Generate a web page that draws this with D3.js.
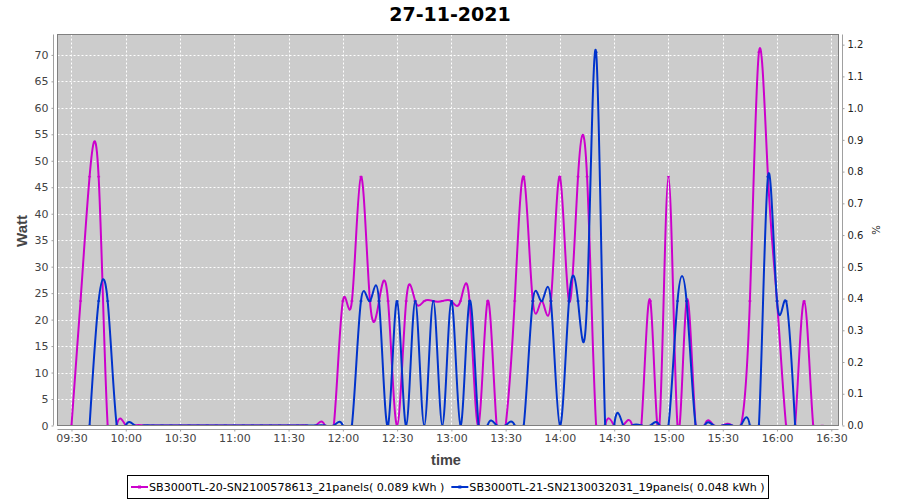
<!DOCTYPE html>
<html><head><meta charset="utf-8">
<script src="https://cdn.jsdelivr.net/npm/d3@7"></script>
<style>body{margin:0;background:#fff}svg{display:block}</style>
</head><body><svg id="c" width="900" height="500"></svg>
<script>
const chartTitle = "27-11-2021";
const xAxisTitle = "time";
const yAxisTitle = "Watt";
const y2AxisTitle = "%";
const seriesNames = [
  "SB3000TL-20-SN2100578613_21panels( 0.089 kWh )",
  "SB3000TL-21-SN2130032031_19panels( 0.048 kWh )"
];
const seriesColors = ["#cc00cc", "#0033cc"];
const times = [
  "09:30","09:35","09:40","09:45","09:50","09:55","10:00","10:05","10:10","10:15","10:20","10:25",
  "10:30","10:35","10:40","10:45","10:50","10:55","11:00","11:05","11:10","11:15","11:20","11:25",
  "11:30","11:35","11:40","11:45","11:50","11:55","12:00","12:05","12:10","12:15","12:20","12:25",
  "12:30","12:35","12:40","12:45","12:50","12:55","13:00","13:05","13:10","13:15","13:20","13:25",
  "13:30","13:35","13:40","13:45","13:50","13:55","14:00","14:05","14:10","14:15","14:20","14:25",
  "14:30","14:35","14:40","14:45","14:50","14:55","15:00","15:05","15:10","15:15","15:20","15:25",
  "15:30","15:35","15:40","15:45","15:50","15:55","16:00","16:05","16:10","16:15","16:20","16:25"
];
const pinkValues = [
  0,23.5,47,47,0,0,0,0,0,0,0,0,
  0,0,0,0,0,0,0,0,0,0,0,0,
  0,0,0,0,0,0,23.5,23.5,47,23.5,23.5,23.5,
  0,23.5,23.5,23.5,23.5,23.5,23.5,23.5,23.5,0,23.5,0,
  0,23.5,47,23.5,23.5,23.5,47,23.5,47,47,0,0,
  0,0,0,0,23.5,0,47,0,23.5,0,0,0,
  0,0,0,23.5,70.5,47,23.5,0,0,23.5,0,0
];
const blueValues = [
  null,null,0,23.5,23.5,0,0,0,0,0,0,0,
  0,0,0,0,0,0,0,0,0,0,0,0,
  0,0,0,0,0,0,0,0,23.5,23.5,23.5,0,
  23.5,0,23.5,0,23.5,0,23.5,0,23.5,0,0,0,
  0,0,0,23.5,23.5,23.5,0,23.5,23.5,23.5,70.5,0,
  0,0,0,0,0,0,0,23.5,23.5,0,0,0,
  0,0,0,0,0,47,23.5,23.5,0,null,null,null
];
const xTickLabels = ["09:30","10:00","10:30","11:00","11:30","12:00","12:30","13:00","13:30","14:00","14:30","15:00","15:30","16:00","16:30"];
const yTicks = [0,5,10,15,20,25,30,35,40,45,50,55,60,65,70];
const y2Ticks = [0,0.1,0.2,0.3,0.4,0.5,0.6,0.7,0.8,0.9,1.0,1.1,1.2];

const parseT = d3.timeParse("%H:%M:%S");
const parseHM = d3.timeParse("%H:%M");
const svg = d3.select("#c");
const L = 57.5, R = 838.5, T = 34.5, B = 425.5;

const x = d3.scaleTime().domain([parseT("09:22:16"), parseT("16:33:59")]).range([L, R]);
const y = d3.scaleLinear().domain([0, 73.85]).range([B, T]);
const y2 = d3.scaleLinear().domain([0, 1.232]).range([B, T]);

svg.append("rect").attr("width", 900).attr("height", 500).attr("fill", "#fff");
svg.append("rect").attr("x", L).attr("y", T).attr("width", R - L).attr("height", B - T).attr("fill", "#cccccc");

// gridlines
const xTickDates = xTickLabels.map(parseHM);
svg.append("g").selectAll("line").data(xTickDates).join("line")
  .attr("x1", d => Math.round(x(d)) + 0.5).attr("x2", d => Math.round(x(d)) + 0.5)
  .attr("y1", T).attr("y2", B).attr("stroke", "#fff").attr("stroke-width", 1).attr("stroke-dasharray", "2,2");
svg.append("g").selectAll("line").data(yTicks.slice(1)).join("line")
  .attr("x1", L).attr("x2", R)
  .attr("y1", d => Math.round(y(d)) + 0.5).attr("y2", d => Math.round(y(d)) + 0.5)
  .attr("stroke", "#fff").attr("stroke-width", 1).attr("stroke-dasharray", "2,2");

// series
svg.append("clipPath").attr("id", "clip").append("rect")
  .attr("x", L).attr("y", T).attr("width", R - L).attr("height", B - T);
const tDates = times.map(parseHM);
const allSeries = [pinkValues, blueValues];
const line = d3.line().x(d => x(d.t)).y(d => y(d.v)).curve(d3.curveNatural);
const plotG = svg.append("g").attr("clip-path", "url(#clip)");
allSeries.forEach((vals, si) => {
  const pts = vals.map((v, i) => ({t: tDates[i], v})).filter(d => d.v !== null);
  plotG.append("path").datum(pts).attr("d", line)
    .attr("fill", "none").attr("stroke", seriesColors[si]).attr("stroke-width", 2)
    .attr("stroke-linejoin", "round");
  plotG.append("g").selectAll("rect").data(pts).join("rect")
    .attr("x", d => x(d.t) - 1.5).attr("y", d => y(d.v) - 0.75)
    .attr("width", 3).attr("height", 1.5).attr("fill", seriesColors[si]).attr("opacity", 0.8);
});

// plot outline
svg.append("rect").attr("x", L).attr("y", T).attr("width", R - L).attr("height", B - T)
  .attr("fill", "none").attr("stroke", "#808080").attr("stroke-width", 1);

const axisColor = "#a0a0a0";
// left axis
const yAxis = d3.axisLeft(y).tickValues(yTicks).tickSize(2).tickPadding(3).tickFormat(d3.format("d"));
const gy = svg.append("g").attr("transform", "translate(53.5,0)").call(yAxis);
gy.select(".domain").attr("stroke", axisColor).attr("d", `M0,${T}V${B}`);
gy.selectAll(".tick line").attr("stroke", axisColor);
gy.selectAll("text").attr("fill", "#444").style("font", "11px 'DejaVu Sans'");

// right axis
const y2Axis = d3.axisRight(y2).tickValues(y2Ticks).tickSize(2).tickPadding(3).tickFormat(d3.format(".1f"));
const gy2 = svg.append("g").attr("transform", "translate(842.5,0)").call(y2Axis);
gy2.select(".domain").attr("stroke", axisColor).attr("d", `M0,${T}V${B}`);
gy2.selectAll(".tick line").attr("stroke", axisColor);
gy2.selectAll("text").attr("fill", "#222").style("font", "10px 'DejaVu Sans'");

// bottom axis
const xAxis = d3.axisBottom(x).tickValues(xTickDates).tickSize(2).tickPadding(3)
  .tickFormat((d, i) => xTickLabels[i]);
const gx = svg.append("g").attr("transform", "translate(0,429.5)").call(xAxis);
gx.select(".domain").attr("stroke", axisColor).attr("d", `M${L},0H${R}`);
gx.selectAll(".tick line").attr("stroke", axisColor);
gx.selectAll("text").attr("fill", "#444").style("font", "11px 'DejaVu Sans'");

// titles
svg.append("text").attr("x", 450).attr("y", 21).attr("text-anchor", "middle")
  .style("font", "bold 19px 'DejaVu Sans'").attr("fill", "#000").text(chartTitle);
svg.append("text").attr("x", 446).attr("y", 465).attr("text-anchor", "middle")
  .style("font", "bold 14.5px 'Liberation Sans'").attr("fill", "#444").text(xAxisTitle);
svg.append("text").attr("transform", "translate(27,231) rotate(-90)").attr("text-anchor", "middle")
  .style("font", "bold 15px 'Liberation Sans'").attr("fill", "#444").text(yAxisTitle);
svg.append("text").attr("transform", "translate(872,230) rotate(90)").attr("text-anchor", "middle")
  .style("font", "10px 'DejaVu Sans'").attr("fill", "#222").text(y2AxisTitle);

// legend
const lg = svg.append("g");
const box = lg.append("rect").attr("fill", "#fff").attr("stroke", "#000").attr("stroke-width", 1);
let cx = 131;
let textEnd = cx;
const ly = 487;
seriesNames.forEach((name, i) => {
  lg.append("line").attr("x1", cx).attr("x2", cx + 17).attr("y1", ly).attr("y2", ly)
    .attr("stroke", seriesColors[i]).attr("stroke-width", 2);
  lg.append("rect").attr("x", cx + 7).attr("y", ly - 1.5).attr("width", 3).attr("height", 3).attr("fill", seriesColors[i]);
  const t = lg.append("text").attr("x", cx + 18).attr("y", ly + 4)
    .style("font", "11.1px 'DejaVu Sans'").attr("fill", "#000").text(name);
  textEnd = cx + 18 + t.node().getComputedTextLength();
  cx = textEnd + 7;
});
box.attr("x", 127.5).attr("y", 475.5).attr("width", Math.round(textEnd + 4 - 127.5)).attr("height", 23);
</script>
</body></html>
